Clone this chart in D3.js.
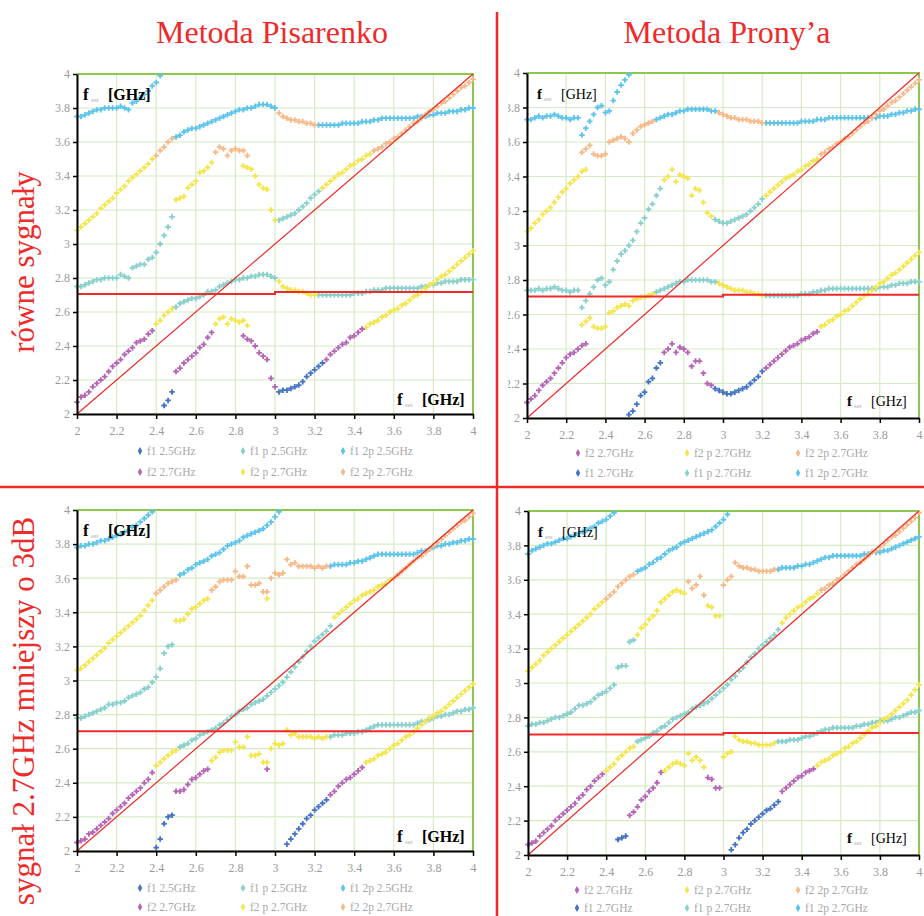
<!DOCTYPE html>
<html>
<head>
<meta charset="utf-8">
<script src="https://cdn.jsdelivr.net/npm/d3@7"></script>
<style>
  body { margin: 0; background: #fff; }
  svg { display: block; }
  text { font-family: "Liberation Serif", "Times New Roman", serif; }
</style>
</head>
<body>
<div id="vis"></div>
<script>
const WIDTH = 924;
const HEIGHT = 916;

// sweep step of f_set [GHz]; every segment below is [first f_set, [f_est values...]]
const STEP = 0.02;
const TICKS = [2, 2.2, 2.4, 2.6, 2.8, 3, 3.2, 3.4, 3.6, 3.8, 4];

const TITLES = ["Metoda Pisarenko", "Metoda Prony’a"];
const ROW_LABELS = ["równe sygnały", "sygnał 2.7GHz mniejszy o 3dB"];
const LEGEND_PIS = ["f1 2.5GHz", "f1 p 2.5GHz", "f1 2p 2.5GHz", "f2 2.7GHz", "f2 p 2.7GHz", "f2 2p 2.7GHz"];
const LEGEND_PRONY = ["f2 2.7GHz", "f2 p 2.7GHz", "f2 2p 2.7GHz", "f1 2.7GHz", "f1 p 2.7GHz", "f1 2p 2.7GHz"];

// series order: f1, f1 p, f1 2p, f2, f2 p, f2 2p
const SERIES_COLORS = ["#4472c4", "#88d0cc", "#5cc4ea", "#b565b5", "#f3e64c", "#f6b987"];

const DIAGONAL = [[2, 2], [4, 4]];

// ---------- Pisarenko, equal signals ----------
const PIS_EQ_F1 = [
  [2.44, [2.05, 2.08, 2.13]],
  [3.02, [2.13, 2.14, 2.14, 2.15, 2.16, 2.17, 2.19, 2.22, 2.24, 2.26, 2.28, 2.30]]
];
const PIS_EQ_F1P = [
  [2.00, [2.75, 2.75, 2.76, 2.77, 2.78, 2.79, 2.79, 2.80, 2.80, 2.80, 2.80, 2.82, 2.81, 2.80, 2.86, 2.87, 2.88, 2.88, 2.91, 2.92, 2.95, 3.00, 3.05, 3.10, 3.16]],
  [2.50, [2.63, 2.65, 2.66, 2.67, 2.68, 2.68, 2.69, 2.70, 2.72, 2.72, 2.73, 2.75, 2.76, 2.77, 2.78, 2.79, 2.79, 2.80, 2.80, 2.81, 2.81, 2.82, 2.82, 2.82, 2.81, 2.80]],
  [3.02, [3.14, 3.15, 3.16, 3.17, 3.18, 3.20, 3.22, 3.24, 3.27, 3.29, 3.31]],
  [3.22, [2.70, 2.70, 2.70, 2.70, 2.70, 2.70, 2.70, 2.70, 2.70, 2.71, 2.71, 2.71, 2.72, 2.72, 2.73, 2.73, 2.73, 2.74, 2.74, 2.74, 2.74, 2.74, 2.74, 2.74, 2.74, 2.74, 2.75, 2.75, 2.76, 2.76, 2.77, 2.77, 2.78, 2.78, 2.78, 2.78, 2.79, 2.79, 2.79, 2.79]]
];
const PIS_EQ_F12P = [
  [2.00, [3.75, 3.75, 3.76, 3.77, 3.78, 3.79, 3.79, 3.80, 3.80, 3.80, 3.80, 3.81, 3.80, 3.79, 3.83, 3.84, 3.86, 3.88, 3.90, 3.93, 3.95, 3.99]],
  [2.50, [3.63, 3.64, 3.66, 3.67, 3.68, 3.68, 3.69, 3.70, 3.71, 3.72, 3.73, 3.74, 3.75, 3.76, 3.77, 3.78, 3.79, 3.79, 3.80, 3.80, 3.81, 3.82, 3.82, 3.82, 3.81, 3.80]],
  [3.22, [3.70, 3.70, 3.70, 3.70, 3.70, 3.70, 3.71, 3.71, 3.71, 3.71, 3.71, 3.72, 3.72, 3.72, 3.73, 3.73, 3.74, 3.74, 3.74, 3.74, 3.74, 3.74, 3.74, 3.74, 3.74, 3.75, 3.75, 3.75, 3.76, 3.76, 3.77, 3.77, 3.77, 3.78, 3.78, 3.78, 3.79, 3.79, 3.80, 3.80]]
];
const PIS_EQ_F2 = [
  [2.00, [2.07, 2.10, 2.11, 2.13, 2.16, 2.18, 2.20, 2.22, 2.25, 2.28, 2.30, 2.32, 2.35, 2.37, 2.39, 2.42, 2.43, 2.44, 2.47, 2.49]],
  [2.50, [2.25, 2.27, 2.30, 2.32, 2.34, 2.36, 2.39, 2.41, 2.45, 2.48]],
  [2.84, [2.46, 2.44, 2.43, 2.40, 2.36, 2.34, 2.32, 2.21, 2.16]],
  [3.26, [2.32, 2.35, 2.37, 2.39, 2.41, 2.42, 2.45, 2.46, 2.48, 2.50]]
];
const PIS_EQ_F2P = [
  [2.00, [3.08, 3.10, 3.12, 3.14, 3.16, 3.18, 3.21, 3.23, 3.25, 3.27, 3.30, 3.32, 3.34, 3.37, 3.39, 3.41, 3.43, 3.45, 3.47, 3.50]],
  [2.40, [2.53, 2.55, 2.58, 2.60, 2.62]],
  [2.50, [3.26, 3.27, 3.28, 3.33, 3.35, 3.37, 3.42, 3.43, 3.45, 3.48]],
  [2.70, [2.53, 2.56, 2.57, 2.53, 2.56, 2.55, 2.54, 2.55, 2.52]],
  [2.84, [3.46, 3.45, 3.44, 3.40, 3.35, 3.33, 3.32, 3.20, 3.14]],
  [3.02, [2.78, 2.75, 2.74, 2.73, 2.73, 2.72, 2.72, 2.71, 2.70, 2.70]],
  [3.24, [3.33, 3.35, 3.37, 3.39, 3.41, 3.42, 3.44, 3.46, 3.47, 3.49, 3.50, 3.52, 3.53]],
  [3.46, [2.51, 2.53, 2.54, 2.55, 2.57, 2.58, 2.60, 2.61, 2.62, 2.64, 2.65, 2.67, 2.69, 2.70, 2.72, 2.74, 2.76, 2.77, 2.79, 2.81, 2.82, 2.84, 2.86, 2.88, 2.90, 2.92, 2.94, 2.96]]
];
const PIS_EQ_F22P = [
  [2.40, [3.52, 3.55, 3.57, 3.60, 3.62]],
  [2.70, [3.54, 3.57, 3.56, 3.52, 3.55, 3.56, 3.55, 3.55, 3.52]],
  [3.02, [3.77, 3.75, 3.74, 3.73, 3.73, 3.72, 3.72, 3.71, 3.71, 3.70]],
  [3.50, [3.55, 3.56, 3.57, 3.59, 3.60, 3.62, 3.63, 3.65, 3.67, 3.69, 3.71, 3.72, 3.74, 3.76, 3.78, 3.79, 3.81, 3.83, 3.84, 3.86, 3.88, 3.90, 3.92, 3.93, 3.95, 3.97]]
];
const PIS_EQ_LEVEL = [[2, 2.706], [3, 2.706], [3, 2.718], [4, 2.718]];

// ---------- Prony, equal signals ----------
const PRO_EQ_F1 = [
  [2.52, [2.02, 2.04, 2.08, 2.13, 2.15, 2.21, 2.23, 2.29, 2.32]],
  [2.96, [2.17, 2.16, 2.15, 2.14, 2.14, 2.15, 2.16, 2.17, 2.18, 2.20, 2.22, 2.24, 2.27]]
];
const PRO_EQ_F1P = [
  [2.00, [2.74, 2.74, 2.74, 2.75, 2.74, 2.75, 2.75, 2.76, 2.75, 2.74, 2.74, 2.73, 2.74, 2.74, 2.64, 2.68, 2.72, 2.76, 2.80, 2.81, 2.77, 2.79, 2.86, 2.91, 2.95, 2.97, 3.00, 3.03, 3.08, 3.13, 3.16, 3.21, 3.24, 3.29, 3.33]],
  [2.66, [2.73, 2.74, 2.75, 2.76, 2.77, 2.78, 2.79, 2.79, 2.80, 2.80, 2.80, 2.80, 2.80, 2.80, 2.79, 2.79]],
  [2.96, [3.15, 3.14, 3.13, 3.13, 3.14, 3.15, 3.16, 3.17, 3.18, 3.20, 3.22, 3.24, 3.27]],
  [3.22, [2.71, 2.71, 2.71, 2.71, 2.71, 2.71, 2.71, 2.71, 2.71, 2.72, 2.72, 2.72, 2.73, 2.73, 2.74, 2.74, 2.75, 2.75, 2.75, 2.75, 2.75, 2.75, 2.75, 2.75, 2.75, 2.75, 2.75, 2.75, 2.75, 2.76, 2.76, 2.76, 2.77, 2.77, 2.78, 2.78, 2.78, 2.79, 2.79, 2.79]]
];
const PRO_EQ_F12P = [
  [2.00, [3.73, 3.73, 3.74, 3.75, 3.74, 3.75, 3.75, 3.76, 3.75, 3.74, 3.74, 3.73, 3.74, 3.74, 3.64, 3.68, 3.72, 3.76, 3.80, 3.81, 3.77, 3.78, 3.84, 3.89, 3.93, 3.96, 3.99]],
  [2.66, [3.73, 3.74, 3.75, 3.76, 3.76, 3.77, 3.78, 3.78, 3.79, 3.79, 3.79, 3.79, 3.79, 3.79, 3.78, 3.78]],
  [3.22, [3.71, 3.71, 3.71, 3.71, 3.71, 3.71, 3.71, 3.71, 3.71, 3.72, 3.72, 3.72, 3.72, 3.73, 3.73, 3.73, 3.74, 3.74, 3.74, 3.74, 3.74, 3.74, 3.74, 3.74, 3.74, 3.74, 3.74, 3.74, 3.74, 3.75, 3.75, 3.75, 3.76, 3.76, 3.77, 3.77, 3.78, 3.78, 3.79, 3.79]]
];
const PRO_EQ_F2 = [
  [2.00, [2.09, 2.11, 2.13, 2.16, 2.19, 2.21, 2.23, 2.26, 2.29, 2.32, 2.35, 2.37, 2.38, 2.40, 2.42, 2.43]],
  [2.70, [2.38, 2.40, 2.43, 2.38, 2.41, 2.40, 2.38, 2.30, 2.33, 2.33, 2.26, 2.20, 2.19]],
  [3.22, [2.29, 2.31, 2.33, 2.35, 2.37, 2.39, 2.41, 2.42, 2.43, 2.45, 2.46, 2.47, 2.49, 2.50]]
];
const PRO_EQ_F2P = [
  [2.00, [3.08, 3.10, 3.13, 3.15, 3.18, 3.20, 3.22, 3.25, 3.28, 3.31, 3.33, 3.36, 3.38, 3.40, 3.43, 3.44]],
  [2.28, [2.54, 2.56, 2.58, 2.53, 2.52, 2.52, 2.53, 2.61, 2.62, 2.64, 2.65, 2.66, 2.65, 2.68, 2.69, 2.70, 2.70, 2.71, 2.72]],
  [2.70, [3.38, 3.40, 3.44, 3.37, 3.41, 3.40, 3.39, 3.29, 3.33, 3.32, 3.25, 3.19, 3.17]],
  [2.98, [2.78, 2.77, 2.76, 2.75, 2.74, 2.74, 2.74, 2.73, 2.73, 2.72, 2.72, 2.71]],
  [3.22, [3.29, 3.31, 3.33, 3.35, 3.37, 3.39, 3.40, 3.41, 3.43, 3.44, 3.46, 3.47, 3.49, 3.50]],
  [3.50, [2.53, 2.54, 2.56, 2.57, 2.59, 2.60, 2.62, 2.63, 2.65, 2.67, 2.69, 2.71, 2.72, 2.74, 2.76, 2.78, 2.79, 2.81, 2.83, 2.84, 2.86, 2.88, 2.90, 2.92, 2.94, 2.96]]
];
const PRO_EQ_F22P = [
  [2.28, [3.54, 3.56, 3.58, 3.53, 3.52, 3.52, 3.53, 3.60, 3.61, 3.62, 3.63, 3.62, 3.60, 3.65, 3.67, 3.69, 3.70, 3.71, 3.72]],
  [2.98, [3.77, 3.76, 3.75, 3.74, 3.74, 3.73, 3.73, 3.73, 3.72, 3.72, 3.72, 3.71]],
  [3.50, [3.53, 3.54, 3.56, 3.57, 3.59, 3.60, 3.62, 3.63, 3.65, 3.67, 3.69, 3.71, 3.72, 3.74, 3.76, 3.78, 3.79, 3.81, 3.83, 3.84, 3.86, 3.88, 3.90, 3.92, 3.94, 3.96]]
];
const PRO_EQ_LEVEL = [[2, 2.705], [3, 2.705], [3, 2.715], [4, 2.715]];

// ---------- Pisarenko, 2.7GHz signal 3dB weaker ----------
const PIS_3DB_F1 = [
  [2.40, [2.02, 2.07, 2.16, 2.20, 2.21]],
  [3.06, [2.04, 2.07, 2.10, 2.13, 2.16, 2.19, 2.21, 2.24, 2.26, 2.28, 2.30]]
];
const PIS_3DB_F1P = [
  [2.00, [2.78, 2.78, 2.79, 2.80, 2.81, 2.82, 2.83, 2.84, 2.86, 2.86, 2.87, 2.87, 2.88, 2.90, 2.91, 2.92, 2.93, 2.95, 2.96, 2.99, 3.02, 3.07, 3.16, 3.20, 3.21]],
  [2.52, [2.61, 2.62, 2.63, 2.65, 2.66, 2.68, 2.69, 2.70, 2.71, 2.72, 2.74, 2.75, 2.77, 2.79, 2.80, 2.82, 2.83, 2.84, 2.86, 2.87, 2.88, 2.89, 2.91, 2.93, 2.95, 2.97, 2.99, 3.02, 3.05, 3.08, 3.11, 3.14, 3.17, 3.20, 3.23, 3.25, 3.27, 3.29, 3.32]],
  [3.28, [2.67, 2.68, 2.68, 2.68, 2.69, 2.69, 2.69, 2.70, 2.70, 2.71, 2.72, 2.73, 2.74, 2.74, 2.74, 2.74, 2.74, 2.74, 2.74, 2.74, 2.74, 2.74, 2.75, 2.76, 2.76, 2.77, 2.78, 2.79, 2.79, 2.80, 2.80, 2.81, 2.82, 2.82, 2.83, 2.83, 2.84]]
];
const PIS_3DB_F12P = [
  [2.00, [3.78, 3.79, 3.79, 3.80, 3.80, 3.81, 3.82, 3.82, 3.83, 3.84, 3.85, 3.86, 3.87, 3.88, 3.90, 3.91, 3.93, 3.95, 3.97, 3.99]],
  [2.52, [3.62, 3.63, 3.65, 3.66, 3.68, 3.69, 3.70, 3.71, 3.73, 3.74, 3.75, 3.77, 3.79, 3.80, 3.81, 3.82, 3.84, 3.85, 3.86, 3.87, 3.88, 3.89, 3.91, 3.93, 3.96, 3.99]],
  [3.28, [3.67, 3.68, 3.68, 3.68, 3.68, 3.69, 3.69, 3.70, 3.70, 3.71, 3.72, 3.73, 3.74, 3.74, 3.74, 3.74, 3.74, 3.74, 3.74, 3.74, 3.74, 3.74, 3.75, 3.76, 3.76, 3.77, 3.78, 3.79, 3.79, 3.80, 3.80, 3.81, 3.81, 3.82, 3.82, 3.83, 3.83]]
];
const PIS_3DB_F2 = [
  [2.00, [2.05, 2.06, 2.07, 2.10, 2.11, 2.13, 2.15, 2.17, 2.19, 2.22, 2.24, 2.26, 2.28, 2.31, 2.33, 2.35, 2.37, 2.40, 2.42, 2.46]],
  [2.50, [2.35, 2.35, 2.36, 2.39, 2.42, 2.43, 2.45, 2.47, 2.48]],
  [2.96, [2.48]],
  [3.28, [2.33, 2.35, 2.38, 2.40, 2.42, 2.43, 2.45, 2.47, 2.49]]
];
const PIS_3DB_F2P = [
  [2.00, [3.06, 3.07, 3.09, 3.11, 3.13, 3.15, 3.17, 3.19, 3.22, 3.24, 3.26, 3.28, 3.30, 3.32, 3.34, 3.36, 3.38, 3.41, 3.44, 3.47]],
  [2.40, [2.50, 2.52, 2.54, 2.56, 2.58, 2.59]],
  [2.50, [3.35, 3.35, 3.36, 3.39, 3.42, 3.43, 3.45, 3.47, 3.48]],
  [2.68, [2.53, 2.55, 2.58, 2.59, 2.59, 2.59, 2.64, 2.61, 2.61, 2.67, 2.56, 2.56, 2.57, 2.52, 2.52, 2.60, 2.63, 2.62, 2.63, 2.71, 2.68, 2.69, 2.67, 2.67, 2.67, 2.67, 2.66, 2.67, 2.66, 2.67]],
  [2.96, [3.48]],
  [3.30, [3.37, 3.39, 3.41, 3.43, 3.45, 3.47, 3.48, 3.50, 3.51, 3.52, 3.53, 3.55, 3.56, 3.57, 3.59]],
  [3.46, [2.52, 2.53, 2.54, 2.56, 2.57, 2.58, 2.60, 2.62, 2.63, 2.65, 2.67, 2.68, 2.70, 2.72, 2.74, 2.76, 2.78, 2.79, 2.81, 2.82, 2.84, 2.86, 2.88, 2.90, 2.92, 2.94, 2.96, 2.98]]
];
const PIS_3DB_F22P = [
  [2.40, [3.51, 3.53, 3.55, 3.57, 3.58, 3.59]],
  [2.68, [3.53, 3.55, 3.58, 3.59, 3.59, 3.59, 3.64, 3.61, 3.61, 3.67, 3.56, 3.56, 3.57, 3.52, 3.52, 3.60, 3.63, 3.62, 3.63, 3.71, 3.68, 3.69, 3.67, 3.67, 3.67, 3.67, 3.66, 3.67, 3.66, 3.67]],
  [3.60, [3.60, 3.62, 3.64, 3.66, 3.68, 3.70, 3.72, 3.73, 3.75, 3.77, 3.79, 3.81, 3.83, 3.85, 3.87, 3.89, 3.91, 3.93, 3.94, 3.96, 3.98]]
];
const PIS_3DB_LEVEL = [[2, 2.702], [4, 2.702]];

// ---------- Prony, 2.7GHz signal 3dB weaker ----------
const PRO_3DB_F1 = [
  [2.46, [2.09, 2.10, 2.11]],
  [3.04, [2.03, 2.06, 2.10, 2.13, 2.15, 2.18, 2.20, 2.22, 2.24, 2.26, 2.27, 2.29, 2.31]]
];
const PRO_3DB_F1P = [
  [2.00, [2.75, 2.76, 2.76, 2.77, 2.77, 2.78, 2.79, 2.80, 2.80, 2.81, 2.82, 2.83, 2.85, 2.87, 2.87, 2.88, 2.89, 2.91, 2.93, 2.94, 2.95, 2.97, 2.99, 3.09, 3.10, 3.10, 3.24, 3.25]],
  [2.56, [2.66, 2.67, 2.68, 2.69, 2.71, 2.72, 2.74, 2.75, 2.77, 2.79, 2.80, 2.81, 2.82, 2.83, 2.85, 2.86, 2.87, 2.88, 2.89, 2.91, 2.93, 2.95, 2.97, 2.99, 3.02, 3.04, 3.07, 3.09, 3.12, 3.15, 3.17, 3.20, 3.22, 3.24, 3.26, 3.28, 3.31]],
  [3.28, [2.66, 2.66, 2.66, 2.67, 2.67, 2.67, 2.68, 2.69, 2.69, 2.70, 2.71, 2.72, 2.73, 2.73, 2.74, 2.74, 2.74, 2.74, 2.74, 2.74, 2.75, 2.75, 2.76, 2.76, 2.77, 2.77, 2.78, 2.78, 2.78, 2.79, 2.80, 2.80, 2.81, 2.82, 2.83, 2.83, 2.84]]
];
const PRO_3DB_F12P = [
  [2.00, [3.75, 3.77, 3.78, 3.79, 3.80, 3.81, 3.81, 3.82, 3.83, 3.84, 3.84, 3.85, 3.86, 3.87, 3.88, 3.89, 3.90, 3.91, 3.93, 3.94, 3.95, 3.97, 3.99]],
  [2.56, [3.65, 3.66, 3.67, 3.69, 3.70, 3.72, 3.73, 3.75, 3.77, 3.78, 3.79, 3.81, 3.82, 3.83, 3.84, 3.85, 3.86, 3.87, 3.88, 3.89, 3.91, 3.93, 3.95, 3.98]],
  [3.28, [3.66, 3.67, 3.67, 3.67, 3.67, 3.68, 3.68, 3.69, 3.69, 3.70, 3.71, 3.72, 3.73, 3.73, 3.74, 3.74, 3.74, 3.74, 3.74, 3.74, 3.74, 3.74, 3.75, 3.75, 3.76, 3.76, 3.76, 3.77, 3.77, 3.78, 3.79, 3.80, 3.81, 3.82, 3.83, 3.84, 3.85]]
];
const PRO_3DB_F2 = [
  [2.00, [2.06, 2.07, 2.08, 2.11, 2.13, 2.15, 2.17, 2.20, 2.22, 2.24, 2.26, 2.28, 2.30, 2.33, 2.35, 2.38, 2.40, 2.43, 2.45, 2.47]],
  [2.52, [2.23, 2.25, 2.28, 2.32, 2.34, 2.37, 2.39, 2.42, 2.48]],
  [2.92, [2.45, 2.44, 2.39, 2.39]],
  [3.30, [2.37, 2.39, 2.41, 2.43, 2.45, 2.46, 2.48, 2.49, 2.50]]
];
const PRO_3DB_F2P = [
  [2.00, [3.07, 3.09, 3.11, 3.13, 3.16, 3.18, 3.20, 3.22, 3.24, 3.26, 3.28, 3.30, 3.32, 3.34, 3.36, 3.38, 3.40, 3.43, 3.45, 3.47]],
  [2.40, [2.49, 2.51, 2.53, 2.56, 2.58, 2.60, 2.62, 2.63]],
  [2.56, [3.28, 3.32, 3.34, 3.37, 3.39, 3.42, 3.47]],
  [2.70, [2.49, 2.51, 2.53, 2.54, 2.53, 2.52, 2.59, 2.55, 2.57, 2.55, 2.51]],
  [2.70, [3.49, 3.51, 3.53, 3.54, 3.53, 3.52]],
  [2.92, [3.45, 3.44, 3.39, 3.39]],
  [3.00, [2.57, 2.59, 2.60, 2.69, 2.67, 2.66, 2.66, 2.65, 2.65, 2.64, 2.64, 2.64, 2.64, 2.65]],
  [3.30, [3.35, 3.38, 3.40, 3.42, 3.44, 3.45, 3.47, 3.49, 3.50, 3.52]],
  [3.48, [2.52, 2.54, 2.55, 2.56, 2.58, 2.59, 2.60, 2.62, 2.63, 2.65, 2.66, 2.68, 2.70, 2.72, 2.74, 2.75, 2.77, 2.79, 2.80, 2.82, 2.84, 2.86, 2.88, 2.90, 2.93, 2.96, 2.99]]
];
const PRO_3DB_F22P = [
  [2.40, [3.49, 3.51, 3.53, 3.56, 3.58, 3.60, 3.62, 3.63]],
  [2.82, [3.59, 3.55, 3.57, 3.62, 3.51]],
  [3.00, [3.57, 3.60, 3.62, 3.70, 3.68, 3.67, 3.67, 3.66, 3.66, 3.65, 3.65, 3.65, 3.65, 3.66]],
  [3.50, [3.54, 3.55, 3.57, 3.58, 3.60, 3.61, 3.63, 3.65, 3.67, 3.69, 3.70, 3.72, 3.74, 3.76, 3.77, 3.79, 3.81, 3.83, 3.85, 3.86, 3.88, 3.90, 3.92, 3.94, 3.96, 3.99]]
];
const PRO_3DB_LEVEL = [[2, 2.700], [3, 2.700], [3, 2.709], [4, 2.709]];

const PANELS = [
  {left: 77, right: 473, top: 74, bottom: 414, bold: true, clip: false,
   series: [PIS_EQ_F1, PIS_EQ_F1P, PIS_EQ_F12P, PIS_EQ_F2, PIS_EQ_F2P, PIS_EQ_F22P], level: PIS_EQ_LEVEL,
   legend: LEGEND_PIS, legendOrder: [0, 1, 2, 3, 4, 5], legendX: [140, 243, 343], legendY: [451, 472]},
  {left: 527, right: 919, top: 73, bottom: 418, bold: false, clip: true,
   series: [PRO_EQ_F1, PRO_EQ_F1P, PRO_EQ_F12P, PRO_EQ_F2, PRO_EQ_F2P, PRO_EQ_F22P], level: PRO_EQ_LEVEL,
   legend: LEGEND_PRONY, legendOrder: [3, 4, 5, 0, 1, 2], legendX: [578, 687, 798], legendY: [453, 473]},
  {left: 77, right: 473, top: 510, bottom: 851, bold: true, clip: false,
   series: [PIS_3DB_F1, PIS_3DB_F1P, PIS_3DB_F12P, PIS_3DB_F2, PIS_3DB_F2P, PIS_3DB_F22P], level: PIS_3DB_LEVEL,
   legend: LEGEND_PIS, legendOrder: [0, 1, 2, 3, 4, 5], legendX: [140, 243, 343], legendY: [888, 907]},
  {left: 528, right: 919, top: 511, bottom: 855, bold: false, clip: true,
   series: [PRO_3DB_F1, PRO_3DB_F1P, PRO_3DB_F12P, PRO_3DB_F2, PRO_3DB_F2P, PRO_3DB_F22P], level: PRO_3DB_LEVEL,
   legend: LEGEND_PRONY, legendOrder: [3, 4, 5, 0, 1, 2], legendX: [577, 687, 798], legendY: [890, 908]}
];

const RED = "#ee2a2a";

const FRAME = d3.select("#vis")
  .append("svg")
    .attr("width", WIDTH)
    .attr("height", HEIGHT);

FRAME.append("defs").append("clipPath").attr("id", "rightClip")
  .append("rect").attr("x", 508).attr("y", 0).attr("width", WIDTH - 508).attr("height", HEIGHT);

const MARKER = d3.symbol().type(d3.symbolCross).size(17);
const LEGEND_MARKER = d3.symbol().type(d3.symbolDiamond).size(18);
const fmt = (d) => String(+d.toFixed(1));

function drawPanel(p) {
  const g = FRAME.append("g").attr("clip-path", p.clip ? "url(#rightClip)" : null);

  const X_SCALE = d3.scaleLinear().domain([2, 4]).range([p.left, p.right]);
  const Y_SCALE = d3.scaleLinear().domain([2, 4]).range([p.bottom, p.top]);

  // grid
  g.append("g").selectAll("line").data(TICKS).join("line")
      .attr("x1", (d) => X_SCALE(d)).attr("x2", (d) => X_SCALE(d))
      .attr("y1", p.top).attr("y2", p.bottom)
      .attr("stroke", "#d6ebc4").attr("stroke-width", 1.2);
  g.append("g").selectAll("line").data(TICKS).join("line")
      .attr("y1", (d) => Y_SCALE(d)).attr("y2", (d) => Y_SCALE(d))
      .attr("x1", p.left).attr("x2", p.right)
      .attr("stroke", "#d6ebc4").attr("stroke-width", 1.2);

  // green frame on top and right
  g.append("path")
      .attr("d", `M${p.left},${p.top}H${p.right}V${p.bottom}`)
      .attr("fill", "none").attr("stroke", "#8cc84e").attr("stroke-width", 2);

  // scatter series
  p.series.forEach((segs, i) => {
    const pts = segs.flatMap(([x0, ys]) => ys.map((v, k) => [x0 + k * STEP, v]));
    g.append("g").selectAll("path").data(pts).join("path")
        .attr("d", MARKER)
        .attr("transform", (d) => `translate(${X_SCALE(d[0])},${Y_SCALE(d[1])})`)
        .attr("fill", SERIES_COLORS[i]);
  });

  // red reference lines
  const line = d3.line().x((d) => X_SCALE(d[0])).y((d) => Y_SCALE(d[1]));
  g.append("path").attr("d", line(DIAGONAL))
      .attr("fill", "none").attr("stroke", RED).attr("stroke-width", 1.2);
  g.append("path").attr("d", line(p.level))
      .attr("fill", "none").attr("stroke", RED).attr("stroke-width", 2);

  // axes
  const xAxis = g.append("g").attr("transform", `translate(0,${p.bottom})`)
      .call(d3.axisBottom(X_SCALE).tickValues(TICKS).tickFormat(fmt).tickSizeInner(5).tickSizeOuter(0).tickPadding(7));
  const yAxis = g.append("g").attr("transform", `translate(${p.left},0)`)
      .call(d3.axisLeft(Y_SCALE).tickValues(TICKS).tickFormat(fmt).tickSizeInner(4).tickSizeOuter(0).tickPadding(3));
  [xAxis, yAxis].forEach((ax) => {
    ax.select(".domain").attr("stroke", "#000").attr("stroke-width", 2);
    ax.selectAll(".tick line").attr("stroke", "#000").attr("stroke-width", 1.5);
    ax.selectAll(".tick text")
        .attr("fill", "#9a9a9a")
        .attr("font-family", "'Liberation Serif', serif")
        .attr("font-size", 12);
  });

  // axis captions inside the plot
  const cap = (x, y, sub) => {
    const t = g.append("g").attr("transform", `translate(${x},${y})`);
    t.append("text").text("f").attr("font-weight", "bold").attr("font-size", p.bold ? 17 : 15).attr("fill", "#000");
    t.append("text").text(sub).attr("x", p.bold ? 8 : 7).attr("y", 2).attr("font-size", 7).attr("fill", "#b0b0b0");
    t.append("text").text("[GHz]").attr("x", p.bold ? 25 : 24)
        .attr("font-weight", p.bold ? "bold" : "normal")
        .attr("font-size", p.bold ? 16 : 14).attr("fill", "#000");
  };
  cap(p.left + (p.bold ? 6 : 10), p.top + 26, "est");
  cap(p.right - (p.bold ? 76 : 72), p.bottom - (p.bold ? 9 : 12), "set");

  // legend
  p.legendOrder.forEach((si, k) => {
    const lx = p.legendX[k % 3];
    const ly = p.legendY[Math.floor(k / 3)];
    g.append("path").attr("d", LEGEND_MARKER)
        .attr("transform", `translate(${lx},${ly})`).attr("fill", SERIES_COLORS[si]);
    g.append("text").text(p.legend[k])
        .attr("x", lx + 7).attr("y", ly + 4)
        .attr("font-size", 11.5).attr("fill", "#a8a8a8");
  });
}

PANELS.forEach(drawPanel);

// titles, side labels and red dividers
FRAME.selectAll(".title").data(TITLES).join("text")
    .attr("class", "title")
    .attr("x", (d, i) => [272, 727][i]).attr("y", 43)
    .attr("text-anchor", "middle")
    .attr("font-size", 32).attr("fill", RED)
    .text((d) => d);

FRAME.selectAll(".rowlabel").data(ROW_LABELS).join("text")
    .attr("class", "rowlabel")
    .attr("transform", (d, i) => `translate(34,${[262, 711][i]}) rotate(-90)`)
    .attr("text-anchor", "middle")
    .attr("font-size", 31).attr("fill", RED)
    .text((d) => d);

FRAME.append("line").attr("x1", 497).attr("x2", 497).attr("y1", 12).attr("y2", HEIGHT)
    .attr("stroke", RED).attr("stroke-width", 2.5);
FRAME.append("line").attr("x1", 0).attr("x2", WIDTH).attr("y1", 487).attr("y2", 487)
    .attr("stroke", RED).attr("stroke-width", 2.5);
</script>
</body>
</html>
